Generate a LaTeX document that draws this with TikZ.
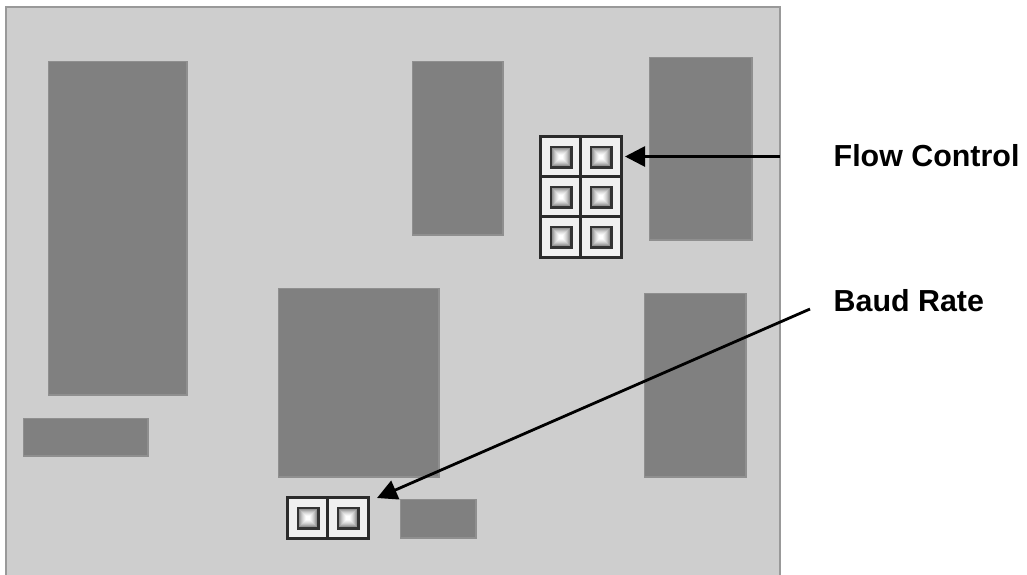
\documentclass[tikz,border=0pt]{standalone}
\usepackage{fontspec}
\setmainfont{Liberation Sans}
\usetikzlibrary{arrows.meta}
\definecolor{boardfill}{gray}{0.808}
\definecolor{boardedge}{gray}{0.6}
\definecolor{chipfill}{gray}{0.5}
\definecolor{chipedge}{gray}{0.56}
\definecolor{cellfill}{gray}{0.94}
\definecolor{celledge}{gray}{0.17}
\definecolor{pinedge}{gray}{0.2}
\tikzset{
  board/.style={draw=boardedge,fill=boardfill,line width=2pt,inner sep=0,outer sep=0},
  chip/.style={draw=chipedge,fill=chipfill,line width=1.2pt,inner sep=0,outer sep=0},
  cell/.style={draw=celledge,fill=cellfill,line width=2.6pt,minimum width=40.5pt,minimum height=40.5pt,inner sep=0,outer sep=0},
  pinring/.style={draw=none,inner sep=0,outer sep=0},
  label/.style={font=\bfseries\fontsize{30.4pt}{34pt}\selectfont,anchor=base west,inner sep=0},
  pointer/.style={-{Triangle[length=20pt,width=20pt]},line width=2.8pt,black}
}
\newcommand{\boxat}[6]{\node[#1,minimum width=#4pt,minimum height=#5pt] (#6) at ({#2+#4/2+0.5},{#3+#5/2+0.5}) {};}
\newcommand{\jumper}[3]{%
  \node[cell] (#1) at (#2,#3) {};
  \node[pinring,fill=pinedge,minimum size=23pt] (#1p) at (#1) {};
  \foreach \s/\g in {18/58,16/66,14/74,12/81,10/87,8/92,6/97,4/100}{
    \node[pinring,fill=white!\g!black,minimum size=\s pt] at (#1) {};
  }%
}
\begin{document}
\begin{tikzpicture}[x=1pt,y=-1pt]
\useasboundingbox (0,0) rectangle (1027,574);
\boxat{board}{5.5}{6.5}{774}{575}{pcb}
\boxat{chip}{48}{61}{138.5}{333.5}{c1}
\boxat{chip}{412}{61}{90.5}{173.5}{c2}
\boxat{chip}{649}{57}{102.5}{182.5}{c3}
\boxat{chip}{278}{288}{160.5}{188.5}{c4}
\boxat{chip}{644}{293}{101.5}{183.5}{c5}
\boxat{chip}{23}{418}{124.5}{37.5}{c6}
\boxat{chip}{400}{499}{75.5}{38.5}{c7}
\jumper{a1}{561}{157}
\jumper{a2}{601}{157}
\jumper{a3}{561}{197}
\jumper{a4}{601}{197}
\jumper{a5}{561}{237}
\jumper{a6}{601}{237}
\jumper{b1}{308}{518}
\jumper{b2}{348}{518}
\coordinate (fstart) at (780,156.5);
\coordinate (bstart) at (810,309);
\coordinate (ftip) at (625,156.5);
\coordinate (btip) at (377,498);
\draw[pointer] (fstart) -- (ftip);
\draw[pointer] (bstart) -- (btip);
\node[label] (flow) at (833.5,166) {Flow Control};
\node[label] (baud) at (833.5,311) {Baud Rate};
\end{tikzpicture}
\end{document}
